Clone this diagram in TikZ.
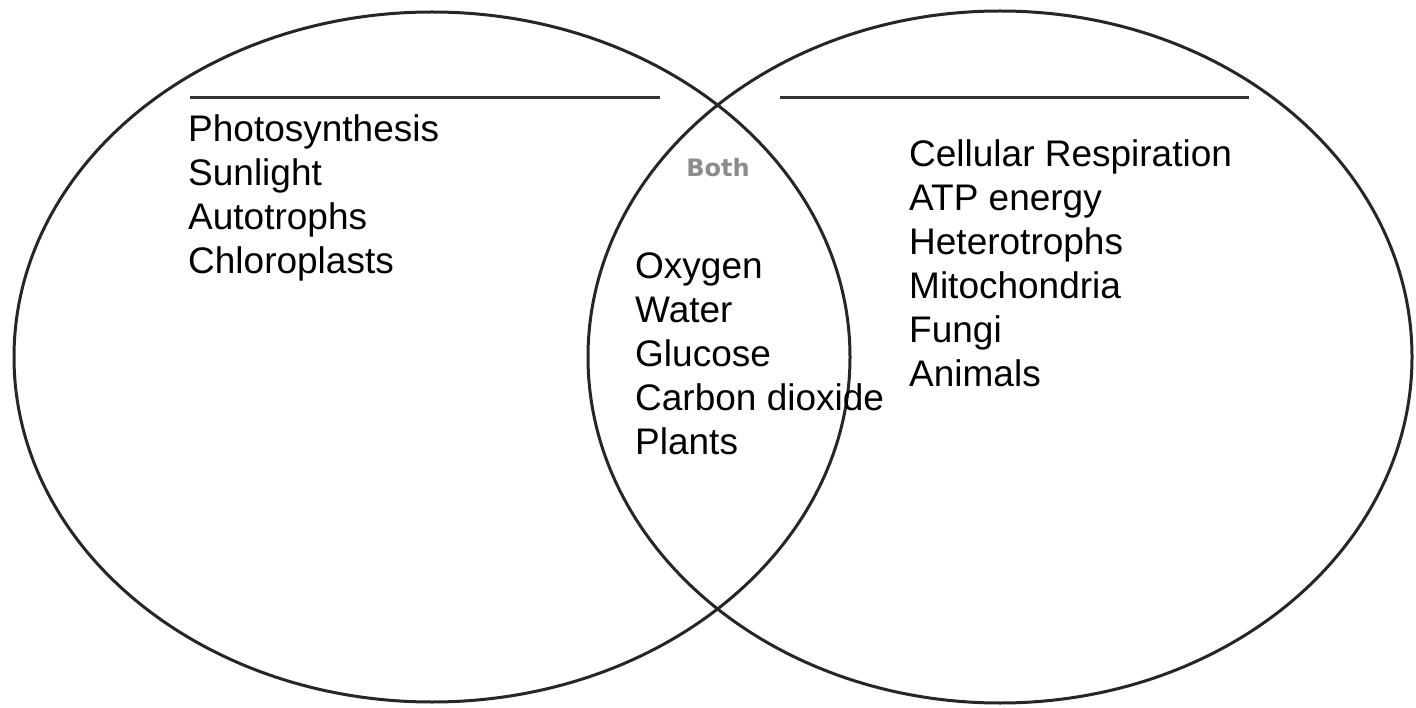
\documentclass[tikz,border=0pt]{standalone}
\usepackage{fontspec}
\setmainfont{Liberation Sans}
\newfontfamily\bothfont{DejaVu Sans}
\begin{document}
\begin{tikzpicture}[x=1pt,y=-1pt,
  ring/.style={draw=black!85,line width=3pt},
  titleline/.style={draw=black!80,line width=3pt},
  itemlist/.style={anchor=north west,inner sep=0pt,align=left,text=black,
    font=\fontsize{37}{44}\selectfont},
  bothlabel/.style={inner sep=0pt,text=black!45,font=\bothfont\bfseries\fontsize{24}{28}\selectfont}]
\useasboundingbox[fill=white] (0,0) rectangle (1416,708);
% circles
\draw[ring] (432,357) ellipse [x radius=418pt, y radius=345pt];
\draw[ring] (1000,357) ellipse [x radius=412pt, y radius=346pt];
% title lines
\coordinate (l1) at (190,98);
\coordinate (l2) at (660,98);
\coordinate (r1) at (780,98);
\coordinate (r2) at (1249,98);
\draw[titleline] (l1) -- (l2);
\draw[titleline] (r1) -- (r2);
% texts
\node[itemlist] (left) at (188,114.5) {Photosynthesis\\Sunlight\\Autotrophs\\Chloroplasts};
\node[itemlist] (mid) at (635,252) {Oxygen\\Water\\Glucose\\Carbon dioxide\\Plants};
\node[itemlist] (right) at (909,139) {Cellular Respiration\\ATP energy\\Heterotrophs\\Mitochondria\\Fungi\\Animals};
\node[bothlabel] (both) at (718,168) {Both};
\end{tikzpicture}
\end{document}
